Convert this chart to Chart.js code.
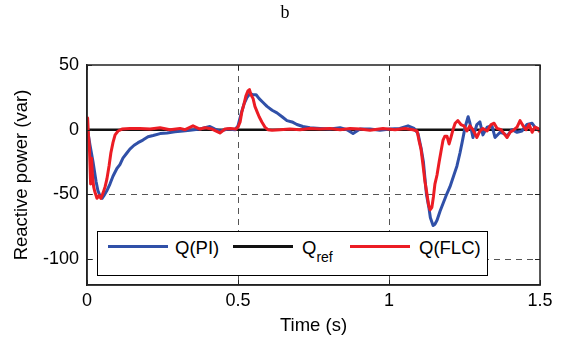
<!DOCTYPE html>
<html>
<head>
<meta charset="utf-8">
<script src="https://cdn.jsdelivr.net/npm/chart.js@4.4.0/dist/chart.umd.min.js"></script>
<style>
  html, body { margin: 0; padding: 0; background: #fff; }
  #wrap { position: relative; width: 570px; height: 349px; }
  #figTitle {
    position: absolute; left: 0; top: 2px; width: 570px; text-align: center;
    font-family: "Liberation Serif", serif; font-size: 18px; color: #000;
  }
  #legendBox {
    position: absolute; left: 97px; top: 231px; width: 389px; height: 43px;
    border: 1px solid #000; background: #fff;
    font-family: "Liberation Sans", Arial, sans-serif; font-size: 18.5px; color: #000;
  }
  .item { position: absolute; top: 5px; height: 22px; line-height: 22px; white-space: nowrap; }
  .swatch { position: absolute; top: 13px; width: 60px; height: 3px; }
  sub { font-size: 14px; vertical-align: -8px; line-height: 0; }
</style>
</head>
<body>
<div id="wrap">
  <canvas id="chart" width="570" height="349"></canvas>
  <div id="figTitle">b</div>
  <div id="legendBox"></div>
</div>
<script>
// ====== DATA ======
const xTicks = [0, 0.5, 1, 1.5];
const yTicks = [50, 0, -50, -100];

// Q(PI) - blue
const piTime = [0.003, 0.010, 0.020, 0.030, 0.036, 0.043, 0.050, 0.056, 0.066, 0.076, 0.086, 0.099,
  0.109, 0.119, 0.132, 0.142, 0.156, 0.169, 0.185, 0.202, 0.219, 0.242, 0.265, 0.291, 0.318, 0.341,
  0.374, 0.407, 0.424, 0.440, 0.467, 0.490, 0.500, 0.510, 0.520, 0.530, 0.540, 0.550, 0.560, 0.570,
  0.583, 0.596, 0.613, 0.629, 0.646, 0.662, 0.679, 0.695, 0.715, 0.738, 0.772, 0.805, 0.838, 0.861,
  0.881, 0.904, 0.937, 0.970, 1.003, 1.036, 1.063, 1.083, 1.096, 1.106, 1.114, 1.124, 1.132, 1.137,
  1.146, 1.152, 1.159, 1.169, 1.179, 1.189, 1.202, 1.215, 1.225, 1.235, 1.242, 1.252, 1.262, 1.268,
  1.278, 1.291, 1.301, 1.311, 1.325, 1.341, 1.351, 1.368, 1.381, 1.391, 1.407, 1.424, 1.440, 1.457,
  1.474, 1.483, 1.497];
const piQ = [-2, -12, -25, -40, -47, -51, -53, -51, -47, -42, -36, -30,
  -27, -22, -18, -15, -12, -10, -8, -5.5, -4.5, -3, -2.5, -1.5, -1, -0.5,
  0.5, 2.5, 0.5, -1, 0.5, 0, 3, 12, 20, 25, 28, 27, 27, 24,
  21, 18, 15, 13, 10, 7, 6, 4, 2.5, 1.5, 1, 0.5, 1.5, 0,
  -3, 0.5, 0.5, -0.5, 0.5, 1, 3, 1, -3, -14, -25, -50, -60, -68,
  -74, -73, -70, -63, -57, -51, -44, -35, -28, -18, -10, 2, 10, 5,
  -6, 4, 6, -4, 2, 3, -6, -2, -3, -5, 0, -2, -1, 4,
  5, 2, 0];

// Q(FLC) - red
const flcTime = [0.002, 0.005, 0.008, 0.012, 0.015, 0.018, 0.022, 0.026, 0.033, 0.040, 0.046, 0.053,
  0.060, 0.066, 0.073, 0.079, 0.086, 0.093, 0.103, 0.116, 0.142, 0.175, 0.209, 0.242, 0.275, 0.308,
  0.325, 0.351, 0.374, 0.391, 0.414, 0.440, 0.457, 0.474, 0.493, 0.500, 0.507, 0.513, 0.520, 0.526,
  0.533, 0.538, 0.543, 0.550, 0.556, 0.563, 0.570, 0.579, 0.589, 0.599, 0.613, 0.639, 0.672, 0.705,
  0.738, 0.772, 0.805, 0.838, 0.871, 0.904, 0.937, 0.980, 1.020, 1.053, 1.079, 1.093, 1.099, 1.106,
  1.113, 1.119, 1.126, 1.131, 1.136, 1.142, 1.147, 1.152, 1.159, 1.166, 1.172, 1.179, 1.185, 1.192,
  1.199, 1.205, 1.212, 1.219, 1.228, 1.238, 1.248, 1.258, 1.268, 1.278, 1.291, 1.301, 1.311, 1.325,
  1.338, 1.348, 1.358, 1.371, 1.381, 1.391, 1.401, 1.414, 1.424, 1.434, 1.444, 1.454, 1.464, 1.474,
  1.483, 1.493, 1.497];
const flcQ = [9, -5, -14, -42, -22, -35, -44, -48, -53, -51, -53, -49,
  -44, -38, -28, -18, -10, -4, -1, 0.5, 1, 1, 0.5, 1.5, 0, 1,
  0, 3, 0.5, 1.5, 0.5, -2.5, 0.5, 1, 0.5, 2, 6, 14, 20, 26,
  30, 31, 27, 24, 18, 14, 10, 6, 2, 0, -0.5, 0, 0.5, 0,
  1, 0.5, 1, 0, 1, 0.5, -0.5, 1, 0, 1, 0, -1, -8, -15,
  -28, -40, -50, -58, -62, -60, -52, -42, -35, -25, -17, -8, -5, -5,
  -11, -6, 0, 5, 7, 4, 3, -1, 3, 0, -6, -1, 1, -1,
  4, 5, 1, 0, -3, -6, -2, 0, 2, 7, 3, 0, 4, -2,
  2, 1, -1];

// Q_ref - black
const refTime = [0, 1.5];
const refQ = [0, 0];

const seriesColors = { pi: "#3050a8", ref: "#111111", flc: "#ec1c24" };

const toPoints = (xs, ys) => xs.map((x, i) => ({ x: x, y: ys[i] }));

// ====== PLUGINS ======
// dashed grid under the lines
const dashGrid = {
  id: "dashGrid",
  beforeDatasetsDraw(chart) {
    const a = chart.chartArea, ctx = chart.ctx;
    const sx = chart.scales.x, sy = chart.scales.y;
    ctx.save();
    ctx.strokeStyle = "#555";
    ctx.lineWidth = 1;
    ctx.setLineDash([6, 5]);
    xTicks.forEach(v => {
      const px = Math.round(sx.getPixelForValue(v)) + 0.5;
      if (px < a.left + 2 || px > a.right - 2) return;
      ctx.beginPath(); ctx.moveTo(px, a.top); ctx.lineTo(px, a.bottom); ctx.stroke();
    });
    yTicks.forEach(v => {
      const py = Math.round(sy.getPixelForValue(v)) + 0.5;
      if (py < a.top + 2 || py > a.bottom - 2) return;
      ctx.beginPath(); ctx.moveTo(a.left, py); ctx.lineTo(a.right, py); ctx.stroke();
    });
    ctx.restore();
  }
};

// MATLAB-style box with inward ticks
const boxPlugin = {
  id: "box",
  afterDraw(chart) {
    const a = chart.chartArea, ctx = chart.ctx;
    const sx = chart.scales.x, sy = chart.scales.y;
    ctx.save();
    ctx.strokeStyle = "#222";
    ctx.lineWidth = 1.5;
    ctx.strokeRect(a.left, a.top, a.right - a.left, a.bottom - a.top);
    ctx.lineWidth = 1;
    xTicks.forEach(v => {
      const px = Math.round(sx.getPixelForValue(v)) + 0.5;
      ctx.beginPath();
      ctx.moveTo(px, a.bottom); ctx.lineTo(px, a.bottom - 5);
      ctx.moveTo(px, a.top); ctx.lineTo(px, a.top + 5);
      ctx.stroke();
    });
    yTicks.forEach(v => {
      const py = Math.round(sy.getPixelForValue(v)) + 0.5;
      ctx.beginPath();
      ctx.moveTo(a.left, py); ctx.lineTo(a.left + 5, py);
      ctx.moveTo(a.right, py); ctx.lineTo(a.right - 5, py);
      ctx.stroke();
    });
    ctx.restore();
  }
};

const tickFont = { family: "'Liberation Sans', Arial, sans-serif", size: 18 };
const titleFont = { family: "'Liberation Sans', Arial, sans-serif", size: 18.5 };

new Chart(document.getElementById("chart"), {
  type: "line",
  data: {
    datasets: [
      { label: "Q(FLC)", data: toPoints(flcTime, flcQ), borderColor: seriesColors.flc, borderWidth: 3, order: 0 },
      { label: "Q(PI)", data: toPoints(piTime, piQ), borderColor: seriesColors.pi, borderWidth: 3, order: 1 },
      { label: "Qref", data: toPoints(refTime, refQ), borderColor: seriesColors.ref, borderWidth: 2.5, order: 2 }
    ]
  },
  options: {
    responsive: false,
    animation: false,
    elements: { point: { radius: 0 }, line: { tension: 0, borderJoinStyle: "round", borderCapStyle: "round" } },
    layout: { padding: { left: 0, right: 30, top: 65, bottom: 0 } },
    plugins: { legend: { display: false }, tooltip: { enabled: false } },
    scales: {
      x: {
        type: "linear", min: 0, max: 1.5,
        afterBuildTicks: s => { s.ticks = xTicks.map(v => ({ value: v })); },
        afterFit: s => { s.height = 64; },
        ticks: { color: "#000", font: tickFont, padding: 5, maxRotation: 0, callback: v => String(v) },
        grid: { display: false, drawTicks: false },
        border: { display: true, color: "#222", width: 1.5 },
        title: { display: true, text: "Time (s)", color: "#000", font: titleFont, padding: { top: 0, bottom: 12 } }
      },
      y: {
        type: "linear", min: -120, max: 50,
        afterBuildTicks: s => { s.ticks = yTicks.map(v => ({ value: v })); },
        afterFit: s => { s.width = 87; },
        ticks: { color: "#000", font: tickFont, padding: 8 },
        grid: { display: false, drawTicks: false },
        border: { display: true, color: "#222", width: 1.5 },
        title: { display: true, text: "Reactive power (var)", color: "#000", font: titleFont, padding: { top: 11, bottom: 0 } }
      }
    }
  },
  plugins: [dashGrid, boxPlugin]
});

// ====== LEGEND ======
const legendItems = [
  { color: seriesColors.pi, html: "Q(PI)", sx: 10, tx: 77 },
  { color: seriesColors.ref, html: "Q<sub>ref</sub>", sx: 135, tx: 204 },
  { color: seriesColors.flc, html: "Q(FLC)", sx: 252, tx: 321 }
];
const lb = document.getElementById("legendBox");
legendItems.forEach(it => {
  const sw = document.createElement("div");
  sw.className = "swatch";
  sw.style.left = it.sx + "px";
  sw.style.background = it.color;
  lb.appendChild(sw);
  const tx = document.createElement("div");
  tx.className = "item";
  tx.style.left = it.tx + "px";
  tx.innerHTML = it.html;
  lb.appendChild(tx);
});
</script>
</body>
</html>
